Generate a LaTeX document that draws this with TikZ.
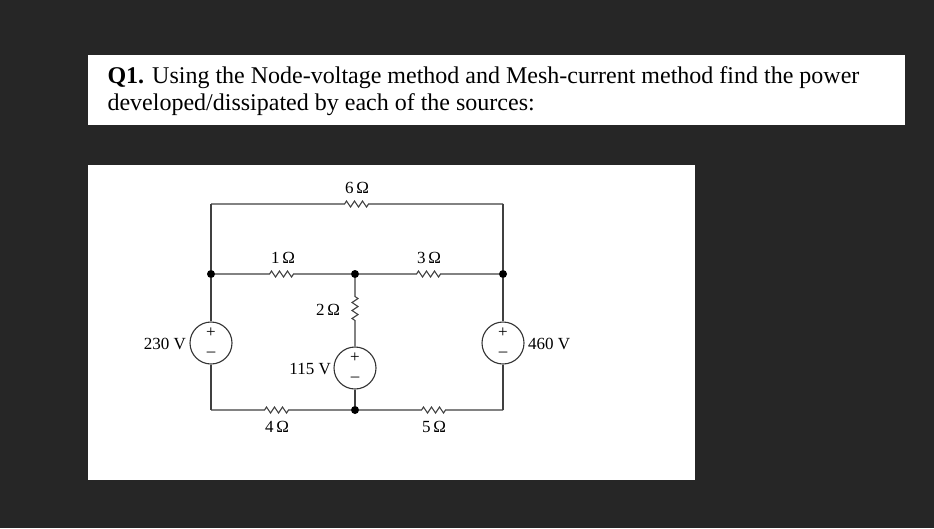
\documentclass[tikz,border=0pt]{standalone}
\usepackage{fontspec}
\setmainfont{Liberation Serif}
\begin{document}
\begin{tikzpicture}[x=1pt,y=-1pt,
  wire/.style={draw=black!75,line width=1.1pt},
  src/.style={circle,draw=black!80,line width=1.1pt,minimum size=42pt,inner sep=0pt,fill=white},
  dotn/.style={circle,fill=black,inner sep=0pt,minimum size=8pt},
  lbl/.style={font=\fontsize{17}{17}\selectfont,inner sep=1pt},
  pm/.style={font=\fontsize{17}{17}\selectfont,inner sep=0pt}]
\fill[black!85] (0,0) rectangle (934,528);
\fill[white] (88,55) rectangle (905,125);
\fill[white] (88,165) rectangle (695,480);
\node[anchor=west,align=left,font=\fontsize{24}{27}\selectfont] (q) at (104,91)
 {\textbf{Q1.} Using the Node-voltage method and Mesh-current method find the power\\developed/dissipated by each of the sources:};
% nodes
\coordinate (tl) at (211,204); \coordinate (tr) at (503,204);
\node[dotn] (a) at (211,274) {}; \node[dotn] (b) at (355,274) {}; \node[dotn] (c) at (503,274) {};
\coordinate (bl) at (211,410); \node[dotn] (d) at (355,410) {}; \coordinate (br) at (503,410);
\node[src] (s1) at (211,343) {}; \node[src] (s2) at (503,343) {}; \node[src] (s3) at (355,368) {};
\foreach \s in {s1,s2,s3}{\node[pm] at ([yshift=10]\s) {+}; \node[pm] at ([yshift=-11]\s) {--};}
% wires with resistors
\draw[wire] (tl) -- (343,204) -- ++(1.5,0) -- ++(2,-3) -- ++(4,6) -- ++(4,-6) -- ++(4,6) -- ++(4,-6) -- ++(4,6) -- ++(2,-3) -- (tr);
\draw[wire] (a) -- (268,274) -- ++(1.5,0) -- ++(2,-3) -- ++(4,6) -- ++(4,-6) -- ++(4,6) -- ++(4,-6) -- ++(4,6) -- ++(2,-3) -- (b);
\draw[wire] (b) -- (415,274) -- ++(1.5,0) -- ++(2,-3) -- ++(4,6) -- ++(4,-6) -- ++(4,6) -- ++(4,-6) -- ++(4,6) -- ++(2,-3) -- (c);
\draw[wire] (bl) -- (263,410) -- ++(1.5,0) -- ++(2,-3) -- ++(4,6) -- ++(4,-6) -- ++(4,6) -- ++(4,-6) -- ++(4,6) -- ++(2,-3) -- (d);
\draw[wire] (d) -- (420,410) -- ++(1.5,0) -- ++(2,-3) -- ++(4,6) -- ++(4,-6) -- ++(4,6) -- ++(4,-6) -- ++(4,6) -- ++(2,-3) -- (br);
\draw[wire] (b) -- (355,295) -- ++(0,1.5) -- ++(3,2) -- ++(-6,4) -- ++(6,4) -- ++(-6,4) -- ++(6,4) -- ++(-6,4) -- ++(3,2) -- (s3);
\draw[wire] (tl) -- (a) -- (s1) -- (bl);
\draw[wire] (tr) -- (c) -- (s2) -- (br);
\draw[wire] (s3) -- (d);
% labels
\node[lbl] (l6) at (357,188) {6\,Ω};
\node[lbl] (l1) at (283,258) {1\,Ω};
\node[lbl] (l3) at (429,258) {3\,Ω};
\node[lbl] (l2) at (328,310) {2\,Ω};
\node[lbl] (l4) at (277,427) {4\,Ω};
\node[lbl] (l5) at (434,427) {5\,Ω};
\node[lbl,anchor=east] (v1) at (187,344) {230 V};
\node[lbl,anchor=west] (v2) at (527,344) {460 V};
\node[lbl,anchor=east] (v3) at (332,369) {115 V};
\end{tikzpicture}
\end{document}
